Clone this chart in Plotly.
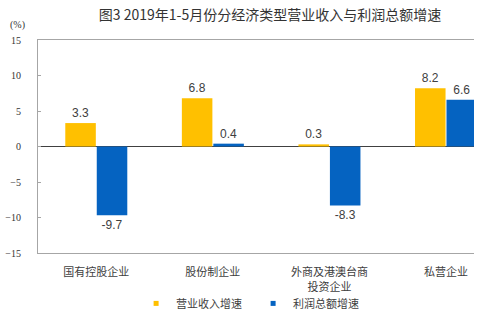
import plotly.graph_objects as go

categories = ["国有控股企业", "股份制企业", "外商及港澳台商<br>投资企业", "私营企业"]
revenue_growth = [3.3, 6.8, 0.3, 8.2]
profit_growth = [-9.7, 0.4, -8.3, 6.6]
series_names = ["营业收入增速", "利润总额增速"]
y_ticks = [15, 10, 5, 0, -5, -10, -15]

YELLOW = "#FFC000"
BLUE = "#0563C1"
xpos = list(range(len(categories)))

fig = go.Figure()
for vals, color in [(revenue_growth, YELLOW), (profit_growth, BLUE)]:
    fig.add_trace(go.Bar(
        x=xpos, y=vals, marker=dict(color=color, line=dict(width=0)),
        texttemplate="%{y:.1f}", textposition="outside",
        textfont=dict(family="Liberation Sans, Arial", size=12, color="#404040"),
        cliponaxis=False, showlegend=False,
    ))
for name, color in zip(series_names, [YELLOW, BLUE]):
    fig.add_trace(go.Scatter(
        x=[None], y=[None], mode="markers", name=name,
        marker=dict(symbol="square", size=5, color=color),
    ))

fig.update_layout(
    width=500, height=328,
    margin=dict(l=38, r=26, t=40, b=75, autoexpand=False),
    paper_bgcolor="white", plot_bgcolor="white",
    barmode="group", bargap=0.46, bargroupgap=0.03,
    title=dict(text="图3 2019年1-5月份分经济类型营业收入与利润总额增速",
               x=0.54, xanchor="center", y=0.955, yanchor="middle",
               font=dict(family="Noto Sans CJK SC", size=14, color="#333333")),
    font=dict(family="Noto Sans CJK SC", color="#404040"),
    legend=dict(orientation="h", x=0.225, xanchor="left",
                yref="container", y=0.075, yanchor="middle",
                bgcolor="rgba(0,0,0,0)",
                font=dict(size=11, color="#404040"), itemwidth=30,
                entrywidth=72, entrywidthmode="pixels"),
    xaxis=dict(range=[-0.5, 3.24], tickvals=xpos, ticktext=categories,
               showline=True, mirror=True, linecolor="#A6A6A6", linewidth=1,
               ticks="", showgrid=False, zeroline=False, automargin=False,
               tickfont=dict(family="Noto Sans CJK SC", size=11, color="#404040"),
               ticklabelstandoff=9),
    yaxis=dict(range=[-15, 15], tickvals=y_ticks, showgrid=False, automargin=False,
               showline=True, linecolor="#A6A6A6", linewidth=1,
               ticks="inside", ticklen=3, tickcolor="#A6A6A6",
               zeroline=True, zerolinecolor="#404040", zerolinewidth=1,
               tickfont=dict(family="Liberation Serif", size=10, color="#333333"),
               ticklabelstandoff=14),
    annotations=[dict(text="(%)", xref="paper", yref="paper", x=-0.068, y=1.07,
                      xanchor="left", yanchor="middle", showarrow=False,
                      font=dict(family="Liberation Serif", size=10, color="#333333"))],
)
fig.write_html("out.html")
